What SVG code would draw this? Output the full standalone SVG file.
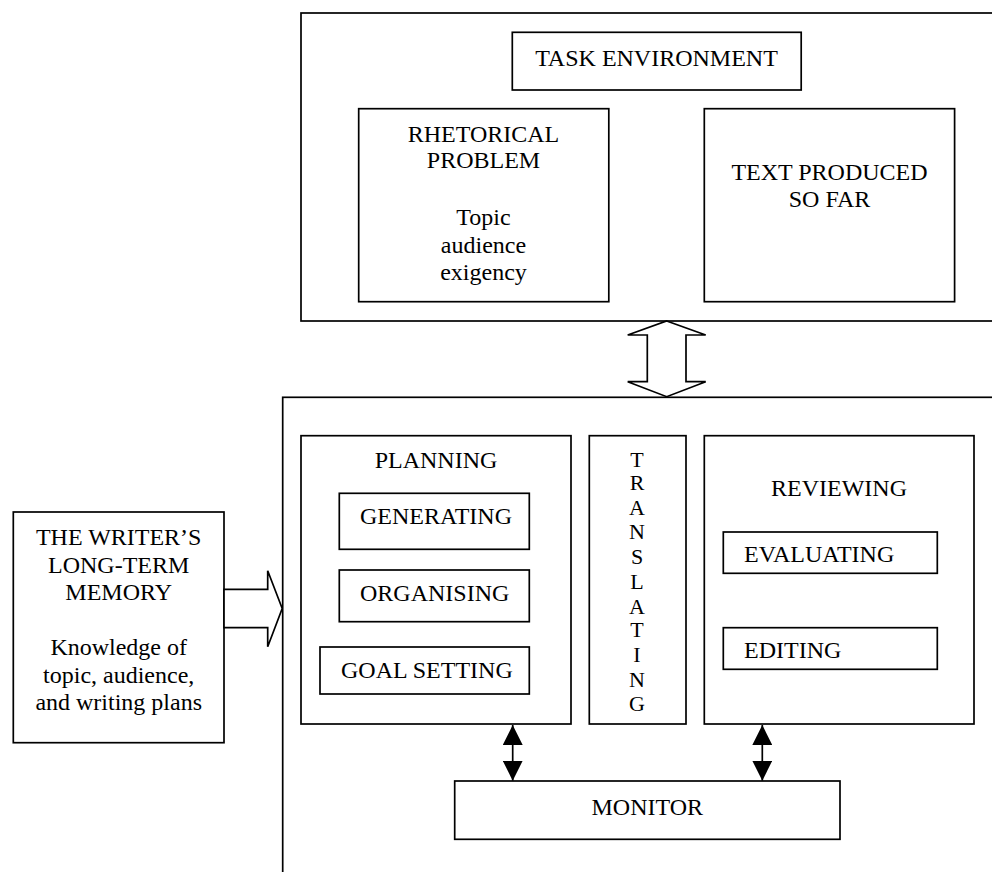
<svg xmlns="http://www.w3.org/2000/svg" width="992" height="872" viewBox="0 0 992 872">
<style>
  .box { fill: #fff; stroke: #000; stroke-width: 1.7; }
  .frame { fill: none; stroke: #000; stroke-width: 1.7; }
  .t { font-family: "Liberation Serif", "Times New Roman", serif; font-size: 24px; fill: #000; }
  .c { text-anchor: middle; }
  .v { font-family: "Liberation Serif", "Times New Roman", serif; font-size: 22px; fill: #000; text-anchor: middle; }
  .conn { stroke: #000; stroke-width: 1.7; fill: none; }
  .block { fill: #fff; stroke: #000; stroke-width: 1.7; stroke-linejoin: miter; }
</style>
<defs>
  <marker id="head" viewBox="0 0 20 20" refX="20" refY="10" markerWidth="20" markerHeight="20" markerUnits="userSpaceOnUse" orient="auto-start-reverse">
    <path d="M0,0 L20,10 L0,20 Z" fill="#000"/>
  </marker>
</defs>
<rect width="992" height="872" fill="#fff"/>

<g id="task-environment-frame">
  <rect class="frame" x="301" y="13" width="720" height="308"/>
</g>
<g id="task-environment">
  <rect class="box" x="512.3" y="32.3" width="288.9" height="57.7"/>
  <text class="t c" x="656.5" y="66">TASK ENVIRONMENT</text>
</g>
<g id="rhetorical-problem">
  <rect class="box" x="358.7" y="108.7" width="250.1" height="193"/>
  <text class="t c" x="483.5" y="141.7">RHETORICAL</text>
  <text class="t c" x="483.5" y="168.3">PROBLEM</text>
  <text class="t c" x="483.5" y="225">Topic</text>
  <text class="t c" x="483.5" y="252.5">audience</text>
  <text class="t c" x="483.5" y="279.5">exigency</text>
</g>
<g id="text-produced">
  <rect class="box" x="704.3" y="108.7" width="250.3" height="193"/>
  <text class="t c" x="829.5" y="180">TEXT PRODUCED</text>
  <text class="t c" x="829.5" y="206.5">SO FAR</text>
</g>

<g id="writing-process-frame">
  <rect class="frame" x="282.7" y="397.3" width="740" height="520"/>
</g>
<g id="memory">
  <rect class="box" x="13.3" y="512" width="210.7" height="230.7"/>
  <text class="t c" x="118.7" y="545">THE WRITER’S</text>
  <text class="t c" x="118.7" y="573">LONG-TERM</text>
  <text class="t c" x="118.7" y="600">MEMORY</text>
  <text class="t c" x="118.7" y="655">Knowledge of</text>
  <text class="t c" x="118.7" y="683">topic, audience,</text>
  <text class="t c" x="118.7" y="710">and writing plans</text>
</g>
<g id="planning">
  <rect class="box" x="301" y="435.7" width="270" height="288.3"/>
  <text class="t c" x="436" y="467.7">PLANNING</text>
</g>
<g id="generating">
  <rect class="box" x="339.3" y="493.3" width="190" height="56"/>
  <text class="t" x="360" y="524.3">GENERATING</text>
</g>
<g id="organising">
  <rect class="box" x="339.3" y="570" width="190" height="51.7"/>
  <text class="t" x="360" y="601">ORGANISING</text>
</g>
<g id="goal-setting">
  <rect class="box" x="320" y="647" width="209.3" height="47"/>
  <text class="t" x="341" y="678.3">GOAL SETTING</text>
</g>
<g id="translating">
  <rect class="box" x="589.3" y="435.7" width="96.7" height="288.3"/>
  <text class="v" x="637" y="466.7">T</text>
  <text class="v" x="637" y="489.8">R</text>
  <text class="v" x="637" y="514.5">A</text>
  <text class="v" x="637" y="539.3">N</text>
  <text class="v" x="637" y="564.3">S</text>
  <text class="v" x="637" y="589.3">L</text>
  <text class="v" x="637" y="614">A</text>
  <text class="v" x="637" y="637">T</text>
  <text class="v" x="637" y="661.7">I</text>
  <text class="v" x="637" y="686.5">N</text>
  <text class="v" x="637" y="710.7">G</text>
</g>
<g id="reviewing">
  <rect class="box" x="704.3" y="435.7" width="269.7" height="288.3"/>
  <text class="t c" x="839" y="496">REVIEWING</text>
</g>
<g id="evaluating">
  <rect class="box" x="723.3" y="532" width="214" height="41.3"/>
  <text class="t" x="744" y="561.7">EVALUATING</text>
</g>
<g id="editing">
  <rect class="box" x="723.3" y="627.7" width="214" height="41.6"/>
  <text class="t" x="744" y="658.3">EDITING</text>
</g>
<g id="monitor">
  <rect class="box" x="454.7" y="781" width="385.3" height="58.3"/>
  <text class="t c" x="647.3" y="815">MONITOR</text>
</g>

<g id="connectors">
  <polygon class="block" points="666.7,321 705.7,335 686,335 686,381.7 705.7,381.7 666.7,396.7 627.7,381.7 647.3,381.7 647.3,335 627.7,335"/>
  <polygon class="block" points="224,589.3 267.7,589.3 267.7,570.7 282.2,608.5 267.7,646.7 267.7,627.7 224,627.7"/>
  <line class="conn" x1="512.7" y1="725" x2="512.7" y2="780.7" marker-start="url(#head)" marker-end="url(#head)"/>
  <line class="conn" x1="762.3" y1="725" x2="762.3" y2="780.7" marker-start="url(#head)" marker-end="url(#head)"/>
</g>
</svg>
